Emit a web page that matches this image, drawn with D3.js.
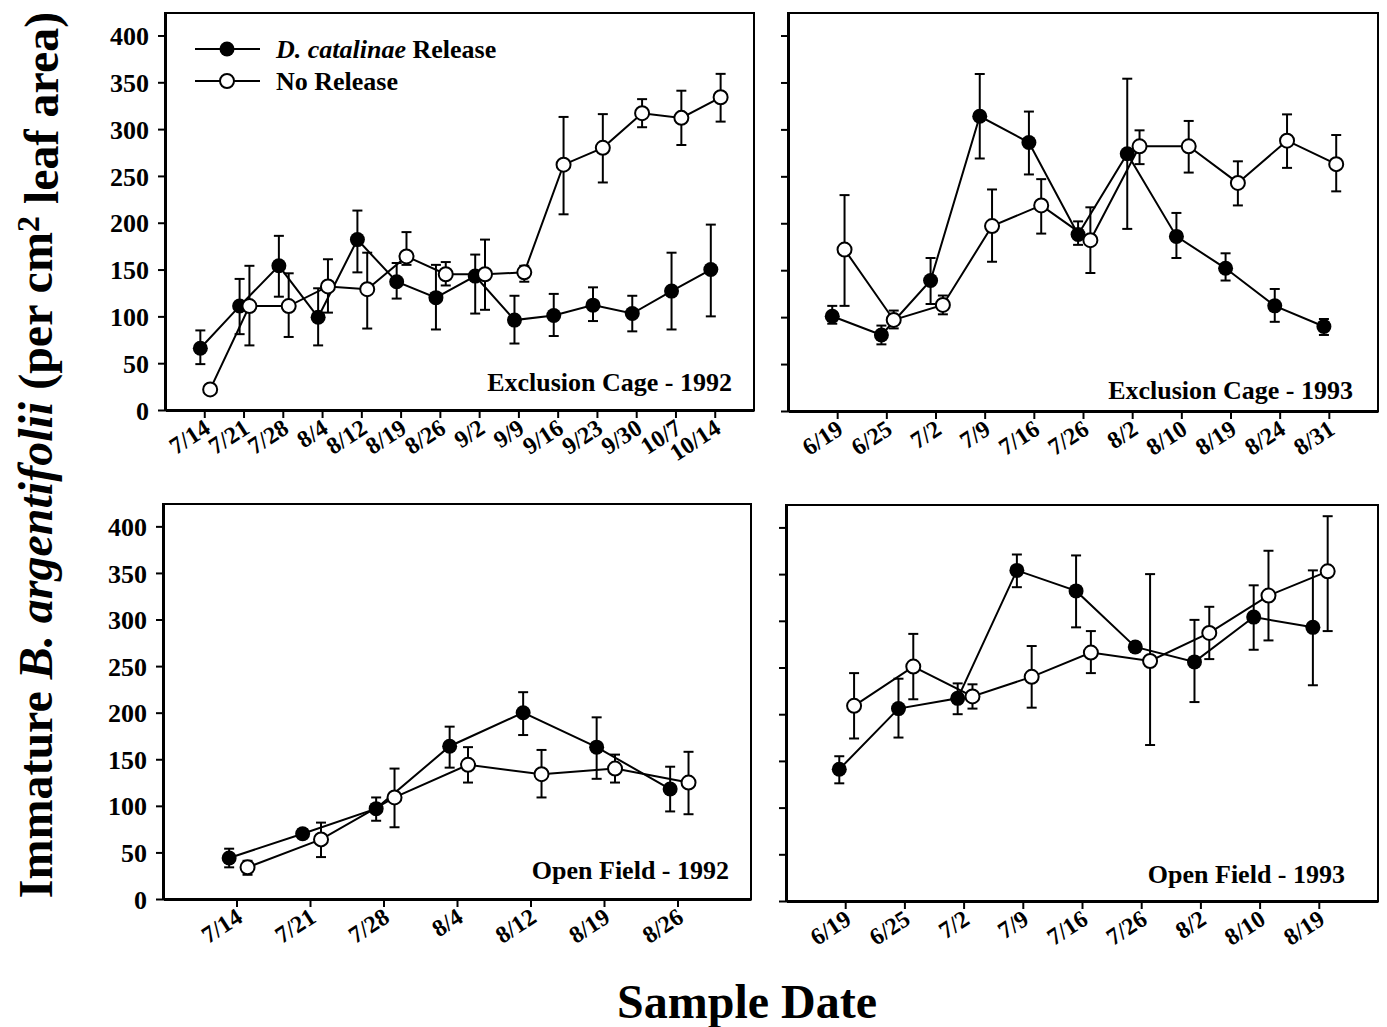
<!DOCTYPE html>
<html>
<head>
<meta charset="utf-8">
<script src="https://cdn.jsdelivr.net/npm/d3@7"></script>
<style>
  html, body { margin: 0; padding: 0; background: #fff; }
  svg { display: block; }
  text { font-family: "Liberation Serif", "Times New Roman", serif; font-weight: bold; fill: #000; }
</style>
</head>
<body>
<svg id="chart" width="1387" height="1027"></svg>
<script>
// ---------------- DATA ----------------
const yTicks = [0, 50, 100, 150, 200, 250, 300, 350, 400];

// Exclusion Cage - 1992
const ec92Dates = ["7/14","7/21","7/28","8/4","8/12","8/19","8/26","9/2","9/9","9/16","9/23","9/30","10/7","10/14"];
const ec92Rel   = [66,111,154,99,182,137,120,143,96,101,112,103,127,150];
const ec92RelHi = [85,140,186,130,213,157,155,166,122,124,131,122,168,198];
const ec92RelLo = [49,81,121,69,147,119,86,103,71,79,95,84,86,100];
const ec92No    = [22,111,111,132,129,164,145,145,147,262,280,317,312,334];
const ec92NoHi  = [26,154,146,161,168,190,158,182,154,313,316,332,341,359];
const ec92NoLo  = [19,69,78,104,87,155,133,107,137,209,243,302,283,308];

// Exclusion Cage - 1993
const ec93Dates = ["6/19","6/25","7/2","7/9","7/16","7/26","8/2","8/10","8/19","8/24","8/31"];
const ec93Rel   = [101,81,139,314,286,188,274,186,152,112,90];
const ec93RelHi = [112,91,163,359,319,202,354,211,168,130,98];
const ec93RelLo = [93,71,114,269,252,177,194,163,139,95,81];
const ec93No    = [172,97,113,197,219,182,282,282,243,288,263];
const ec93NoHi  = [230,107,123,236,247,217,299,309,266,316,294];
const ec93NoLo  = [112,88,103,159,189,147,263,254,219,259,234];

// Open Field - 1992
const of92Dates = ["7/14","7/21","7/28","8/4","8/12","8/19","8/26"];
const of92Rel   = [44,70,97,164,200,163,118];
const of92RelHi = [54,75,109,185,222,195,142];
const of92RelLo = [34,65,84,141,176,129,94];
const of92No    = [34,64,109,144,134,140,125];
const of92NoHi  = [41,82,140,163,160,155,158];
const of92NoLo  = [26,45,77,125,109,125,91];

// Open Field - 1993
const of93Dates = ["6/19","6/25","7/2","7/9","7/16","7/26","8/2","8/10","8/19"];
const of93Rel   = [141,206,217,354,332,272,256,304,293];
const of93RelHi = [155,238,233,371,370,277,301,338,354];
const of93RelLo = [126,175,200,336,293,267,213,269,231];
const of93No    = [209,251,219,240,266,257,287,327,353];
const of93NoHi  = [244,286,232,273,289,350,315,375,412];
const of93NoLo  = [174,216,206,207,244,167,259,279,289];

const seriesNames = ["D. catalinae Release", "No Release"];

// ---------------- LAYOUT ----------------
const panels = [
  { dates: ec92Dates, rel: ec92Rel, relHi: ec92RelHi, relLo: ec92RelLo, no: ec92No, noHi: ec92NoHi, noLo: ec92NoLo,
    title: "Exclusion Cage - 1992", box: {l: 165, r: 754, t: 13, b: 410}, yLabels: true, legend: true, lab: {dx: 22, dy: 19} },
  { dates: ec93Dates, rel: ec93Rel, relHi: ec93RelHi, relLo: ec93RelLo, no: ec93No, noHi: ec93NoHi, noLo: ec93NoLo,
    title: "Exclusion Cage - 1993", box: {l: 788, r: 1378, t: 13, b: 411}, yLabels: false, legend: false, lab: {dx: 25, dy: 12} },
  { dates: of92Dates, rel: of92Rel, relHi: of92RelHi, relLo: of92RelLo, no: of92No, noHi: of92NoHi, noLo: of92NoLo,
    title: "Open Field - 1992", box: {l: 163, r: 751, t: 504, b: 899}, yLabels: true, legend: false, lab: {dx: 22, dy: 20} },
  { dates: of93Dates, rel: of93Rel, relHi: of93RelHi, relLo: of93RelLo, no: of93No, noHi: of93NoHi, noLo: of93NoLo,
    title: "Open Field - 1993", box: {l: 786, r: 1378, t: 505, b: 901}, yLabels: false, legend: false, lab: {dx: 33, dy: 18} }
];

const svg = d3.select("#chart");
const R = 7.5;
const FS = 26;

function drawPanel(p) {
  const b = p.box;
  const g = svg.append("g");
  const x = d3.scalePoint().domain(p.dates).range([b.l, b.r]).padding(1);
  const y = d3.scaleLinear().domain([0, 424]).range([b.b, b.t]);
  const step = x.step();
  const dRel = -0.1 * step, dNo = 0.15 * step;

  // frame
  g.append("rect").attr("x", b.l).attr("y", b.t).attr("width", b.r - b.l).attr("height", b.b - b.t)
    .attr("fill", "none").attr("stroke", "#000").attr("stroke-width", 2);

  // y axis
  const ya = g.append("g").attr("transform", `translate(${b.l},0)`)
    .call(d3.axisLeft(y).tickValues(yTicks).tickSize(7).tickSizeOuter(0)
      .tickFormat(p.yLabels ? d3.format("d") : () => ""));
  ya.select(".domain").attr("stroke-width", 3);
  ya.selectAll(".tick line").attr("stroke-width", 2);
  ya.selectAll(".tick text").attr("x", -16).attr("dy", "0.35em")
    .style("font-size", FS + "px").style("font-family", "'Liberation Serif', serif").style("font-weight", "bold");

  // x axis
  const xa = g.append("g").attr("transform", `translate(0,${b.b})`)
    .call(d3.axisBottom(x).tickSize(8).tickSizeOuter(0));
  xa.select(".domain").attr("stroke-width", 3);
  xa.selectAll(".tick line").attr("stroke-width", 2);
  xa.selectAll(".tick text").attr("y", 0).attr("dy", 0)
    .attr("text-anchor", "end")
    .attr("transform", "translate(7,22) rotate(-33)")
    .style("font-size", "24px").style("font-family", "'Liberation Serif', serif").style("font-weight", "bold");

  const line = d3.line();
  const ptsRel = p.dates.map((d, i) => [x(d) + dRel, y(p.rel[i])]);
  const ptsNo = p.dates.map((d, i) => [x(d) + dNo, y(p.no[i])]);

  g.append("path").attr("d", line(ptsRel)).attr("fill", "none").attr("stroke", "#000").attr("stroke-width", 2);
  g.append("path").attr("d", line(ptsNo)).attr("fill", "none").attr("stroke", "#000").attr("stroke-width", 2);

  function errBars(dx, hi, lo) {
    const eg = g.append("g").attr("stroke", "#000").attr("stroke-width", 2);
    p.dates.forEach((d, i) => {
      const cx = x(d) + dx;
      eg.append("line").attr("x1", cx).attr("x2", cx).attr("y1", y(hi[i])).attr("y2", y(lo[i]));
      eg.append("line").attr("x1", cx - 5).attr("x2", cx + 5).attr("y1", y(hi[i])).attr("y2", y(hi[i]));
      eg.append("line").attr("x1", cx - 5).attr("x2", cx + 5).attr("y1", y(lo[i])).attr("y2", y(lo[i]));
    });
  }
  errBars(dRel, p.relHi, p.relLo);
  errBars(dNo, p.noHi, p.noLo);

  g.append("g").selectAll("circle").data(ptsRel).join("circle")
    .attr("cx", d => d[0]).attr("cy", d => d[1]).attr("r", R).attr("fill", "#000");
  g.append("g").selectAll("circle").data(ptsNo).join("circle")
    .attr("cx", d => d[0]).attr("cy", d => d[1]).attr("r", R - 0.5)
    .attr("fill", "#fff").attr("stroke", "#000").attr("stroke-width", 2);

  g.append("text").attr("x", b.r - p.lab.dx).attr("y", b.b - p.lab.dy).attr("text-anchor", "end")
    .style("font-size", FS + "px").text(p.title);

  if (p.legend) {
    const rows = [{y: 49, filled: true}, {y: 81, filled: false}];
    rows.forEach((r, i) => {
      g.append("line").attr("x1", 195).attr("x2", 260).attr("y1", r.y).attr("y2", r.y)
        .attr("stroke", "#000").attr("stroke-width", 2);
      g.append("circle").attr("cx", 227).attr("cy", r.y).attr("r", r.filled ? R : R - 0.5)
        .attr("fill", r.filled ? "#000" : "#fff").attr("stroke", "#000").attr("stroke-width", r.filled ? 0 : 2);
      const t = g.append("text").attr("x", 276).attr("y", r.y + 9).style("font-size", FS + "px");
      if (i === 0) {
        t.append("tspan").style("font-style", "italic").text("D. catalinae");
        t.append("tspan").text(" Release");
      } else {
        t.text(seriesNames[1]);
      }
    });
  }
}

panels.forEach(drawPanel);

// Y axis title
const yt = svg.append("text").attr("transform", "translate(52,455) rotate(-90)")
  .attr("text-anchor", "middle").style("font-size", "48px");
yt.append("tspan").text("Immature ");
yt.append("tspan").style("font-style", "italic").text("B. argentifolii");
yt.append("tspan").text(" (per cm");
yt.append("tspan").attr("dy", "-0.4em").style("font-size", "32px").text("2");
yt.append("tspan").attr("dy", "0.4em").text(" leaf area)");

// X axis title
svg.append("text").attr("x", 747).attr("y", 1018).attr("text-anchor", "middle")
  .style("font-size", "48px").text("Sample Date");
</script>
</body>
</html>
